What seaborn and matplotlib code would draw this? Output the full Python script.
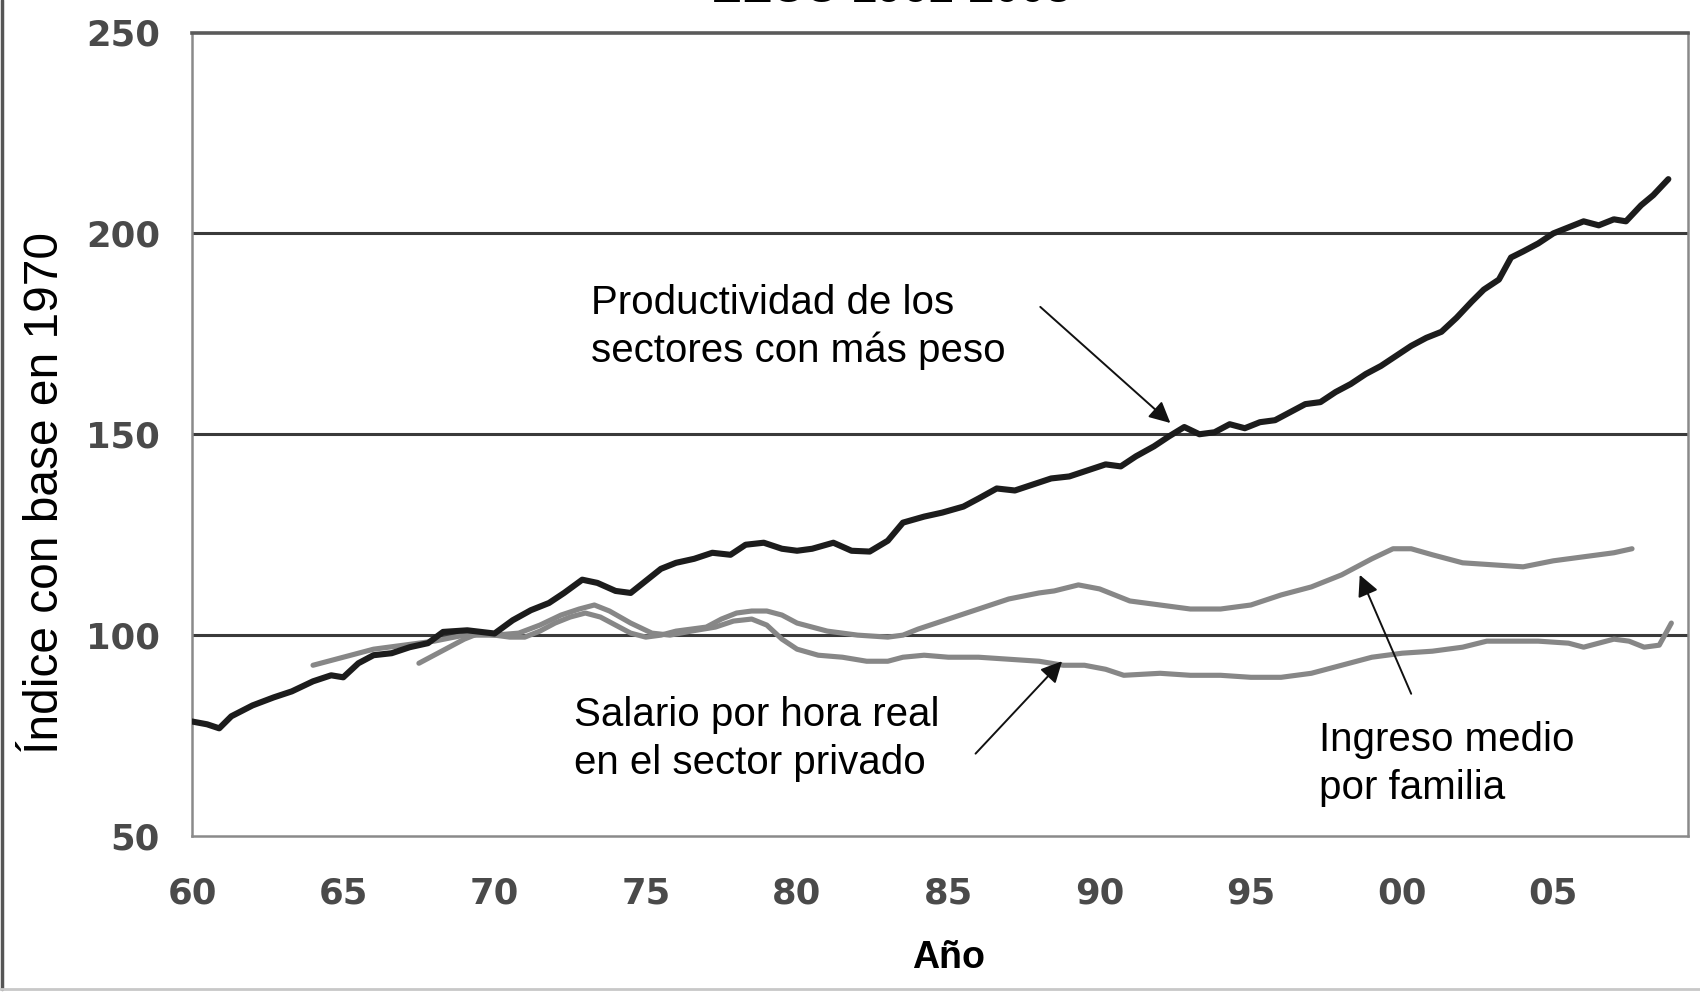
import matplotlib
matplotlib.use("Agg")
import matplotlib.pyplot as plt
import seaborn as sns
import pandas as pd
from matplotlib.lines import Line2D

# ---------------- data ----------------
prod_years = [1960.0, 1960.5, 1960.9, 1961.3, 1962.0, 1962.7, 1963.3, 1964.0, 1964.6, 1965.0,
              1965.5, 1966.0, 1966.6, 1967.2, 1967.8, 1968.3, 1969.1, 1970.0, 1970.6, 1971.2,
              1971.8, 1972.3, 1972.9, 1973.4, 1974.0, 1974.5, 1975.0, 1975.5, 1976.0, 1976.6,
              1977.2, 1977.8, 1978.3, 1978.9, 1979.5, 1980.0, 1980.5, 1981.2, 1981.8, 1982.4,
              1983.0, 1983.5, 1984.2, 1984.8, 1985.5, 1986.0, 1986.6, 1987.2, 1987.8, 1988.4,
              1989.0, 1989.6, 1990.2, 1990.7, 1991.2, 1991.8, 1992.3, 1992.8, 1993.3, 1993.8,
              1994.3, 1994.8, 1995.3, 1995.8, 1996.3, 1996.8, 1997.3, 1997.8, 1998.3, 1998.8,
              1999.3, 1999.8, 2000.3, 2000.8, 2001.3, 2001.8, 2002.3, 2002.7, 2003.2, 2003.6,
              2004.0, 2004.5, 2005.0, 2005.5, 2006.0, 2006.5, 2007.0, 2007.4, 2007.9, 2008.3,
              2008.8]
prod_values = [78.5, 77.8, 76.8, 79.8, 82.5, 84.5, 86.0, 88.5, 90.0, 89.5,
               93.0, 95.0, 95.5, 97.0, 98.0, 100.8, 101.2, 100.4, 103.7, 106.2,
               108.0, 110.5, 113.8, 113.0, 111.0, 110.5, 113.5, 116.5, 118.0, 119.0,
               120.5, 120.0, 122.5, 123.0, 121.5, 121.0, 121.5, 123.0, 121.0, 120.8,
               123.5, 128.0, 129.5, 130.5, 132.0, 134.0, 136.5, 136.0, 137.5, 139.0,
               139.5, 141.0, 142.5, 142.0, 144.5, 147.0, 149.5, 151.8, 150.0, 150.5,
               152.5, 151.5, 153.0, 153.5, 155.5, 157.5, 158.0, 160.5, 162.5, 165.0,
               167.0, 169.5, 172.0, 174.0, 175.5, 179.0, 183.0, 186.0, 188.5, 194.0,
               195.5, 197.5, 200.0, 201.5, 203.0, 202.0, 203.5, 203.0, 207.0, 209.5,
               213.5]

wage_years = [1964.0, 1965.0, 1966.0, 1967.0, 1968.0, 1969.0, 1970.0, 1970.8, 1971.5, 1972.2,
              1972.8, 1973.3, 1973.8, 1974.5, 1975.2, 1975.8, 1976.5, 1977.3, 1977.9, 1978.5,
              1979.0, 1979.5, 1980.0, 1980.7, 1981.5, 1982.3, 1983.0, 1983.5, 1984.2, 1985.0,
              1986.0, 1987.0, 1988.0, 1988.8, 1989.5, 1990.2, 1990.8, 1992.0, 1993.0, 1994.0,
              1995.0, 1996.0, 1997.0, 1998.0, 1999.0, 2000.0, 2001.0, 2002.0, 2002.8, 2003.5,
              2004.5, 2005.5, 2006.0, 2006.5, 2007.0, 2007.5, 2008.0, 2008.5, 2008.9]
wage_values = [92.5, 94.5, 96.5, 97.5, 98.5, 100.0, 100.0, 100.5, 102.5, 105.0,
               106.5, 107.5, 106.0, 103.0, 100.5, 100.0, 101.0, 102.0, 103.5, 104.0,
               102.5, 99.0, 96.5, 95.0, 94.5, 93.5, 93.5, 94.5, 95.0, 94.5,
               94.5, 94.0, 93.5, 92.5, 92.5, 91.5, 90.0, 90.5, 90.0, 90.0,
               89.5, 89.5, 90.5, 92.5, 94.5, 95.5, 96.0, 97.0, 98.5, 98.5,
               98.5, 98.0, 97.0, 98.0, 99.0, 98.5, 97.0, 97.5, 103.0]

income_years = [1967.5, 1968.0, 1968.5, 1969.0, 1969.5, 1970.0, 1970.5, 1971.0, 1971.5, 1972.0,
                1972.5, 1973.0, 1973.5, 1974.0, 1974.5, 1975.0, 1975.5, 1976.0, 1976.5, 1977.0,
                1977.5, 1978.0, 1978.5, 1979.0, 1979.5, 1980.0, 1980.5, 1981.0, 1981.5, 1982.0,
                1983.0, 1983.5, 1984.0, 1985.0, 1986.0, 1987.0, 1988.0, 1988.5, 1989.3, 1990.0,
                1990.5, 1991.0, 1992.0, 1993.0, 1994.0, 1995.0, 1996.0, 1997.0, 1998.0, 1999.0,
                1999.7, 2000.3, 2001.0, 2002.0, 2003.0, 2004.0, 2005.0, 2006.0, 2007.0, 2007.6]
income_values = [93.0, 95.0, 97.0, 99.0, 100.5, 100.0, 99.5, 99.5, 101.0, 103.0,
                 104.5, 105.5, 104.5, 102.5, 100.5, 99.5, 100.0, 101.0, 101.5, 102.0,
                 104.0, 105.5, 106.0, 106.0, 105.0, 103.0, 102.0, 101.0, 100.5, 100.0,
                 99.5, 100.0, 101.5, 104.0, 106.5, 109.0, 110.5, 111.0, 112.5, 111.5,
                 110.0, 108.5, 107.5, 106.5, 106.5, 107.5, 110.0, 112.0, 115.0, 119.0,
                 121.5, 121.5, 120.0, 118.0, 117.5, 117.0, 118.5, 119.5, 120.5, 121.5]

x_ticks = [1960, 1965, 1970, 1975, 1980, 1985, 1990, 1995, 2000, 2005]
x_tick_labels = ["60", "65", "70", "75", "80", "85", "90", "95", "00", "05"]
y_ticks = [50, 100, 150, 200, 250]
grid_levels = [100, 150, 200]

title_text = "EEUU 1961-2008"
xlabel_text = "Año"
ylabel_text = "Índice con base en 1970"
label_prod = "Productividad de los\nsectores con más peso"
label_wage = "Salario por hora real\nen el sector privado"
label_income = "Ingreso medio\npor familia"

# ---------------- figure ----------------
sns.set_style("white")
plt.rcParams['font.family'] = ['Liberation Sans', 'DejaVu Sans']

fig = plt.figure(figsize=(17, 9.93), dpi=100)
ax = fig.add_axes([192 / 1700, 1 - 836 / 993, 1496 / 1700, (836 - 32.5) / 993])

df_prod = pd.DataFrame({"year": prod_years, "value": prod_values})
df_wage = pd.DataFrame({"year": wage_years, "value": wage_values})
df_inc = pd.DataFrame({"year": income_years, "value": income_values})

for lvl in grid_levels:
    ax.axhline(lvl, color="#3a3a3a", lw=2.2, zorder=1)

sns.lineplot(data=df_wage, x="year", y="value", ax=ax, color="#878787", lw=3.7,
             sort=False, estimator=None, zorder=3)
sns.lineplot(data=df_inc, x="year", y="value", ax=ax, color="#878787", lw=3.7,
             sort=False, estimator=None, zorder=3)
sns.lineplot(data=df_prod, x="year", y="value", ax=ax, color="#1c1c1c", lw=4.4,
             sort=False, estimator=None, zorder=4)

ax.set_xlim(1960, 2009.45)
ax.set_ylim(50, 250)
ax.set_xticks(x_ticks)
ax.set_xticklabels(x_tick_labels)
ax.set_yticks(y_ticks)

for lab in ax.get_xticklabels() + ax.get_yticklabels():
    lab.set_fontfamily("DejaVu Sans")
    lab.set_fontweight("bold")
    lab.set_fontsize(25.5)
    lab.set_color("#4a4a4a")
ax.tick_params(axis="y", direction="out", length=9, width=1.5, color="#7a7a7a", pad=14)
ax.tick_params(axis="x", length=0, pad=29)

for side in ["left", "right", "bottom"]:
    ax.spines[side].set_color("#8a8a8a")
    ax.spines[side].set_linewidth(1.8)
ax.spines["top"].set_color("#5a5a5a")
ax.spines["top"].set_linewidth(2.6)

ax.set_xlabel(xlabel_text, fontsize=27, fontweight="bold", color="black")
ax.set_ylabel(ylabel_text, fontsize=34.5, color="black")
ax.xaxis.set_label_coords(0.506, -0.13)
ax.yaxis.set_label_coords(-0.083, 0.427)

# annotations
txt_kw = dict(fontsize=29, color="black", ha="left", va="top", linespacing=1.32)
ax.text(1973.18, 187.5, label_prod, **txt_kw)
ax.text(1972.64, 84.8, label_wage, **txt_kw)
ax.text(1997.25, 78.6, label_income, **txt_kw)

arrow_kw = dict(arrowstyle="-|>", color="#111111", lw=1.4, mutation_scale=32,
                shrinkA=0, shrinkB=0)
ax.annotate("", xy=(1992.34, 152.8), xytext=(1988.04, 181.7), arrowprops=arrow_kw, zorder=5)
ax.annotate("", xy=(1988.76, 93.5), xytext=(1985.9, 70.5), arrowprops=arrow_kw, zorder=5)
ax.annotate("", xy=(1998.6, 115.0), xytext=(2000.3, 85.4), arrowprops=arrow_kw, zorder=5)

# title (cut off at the top, as in the reference)
fig.text(891 / 1700, 1 - 1.5 / 993, title_text, ha="center", va="baseline",
         fontsize=33, fontweight="bold", color="black")

# figure border
fig.add_artist(Line2D([2 / 1700, 2 / 1700], [1, 4 / 993], transform=fig.transFigure,
                      color="#555555", lw=2.5))
fig.add_artist(Line2D([0, 1], [4 / 993, 4 / 993], transform=fig.transFigure,
                      color="#c8c8c8", lw=2.0))

fig.savefig("out.png", dpi=100)
